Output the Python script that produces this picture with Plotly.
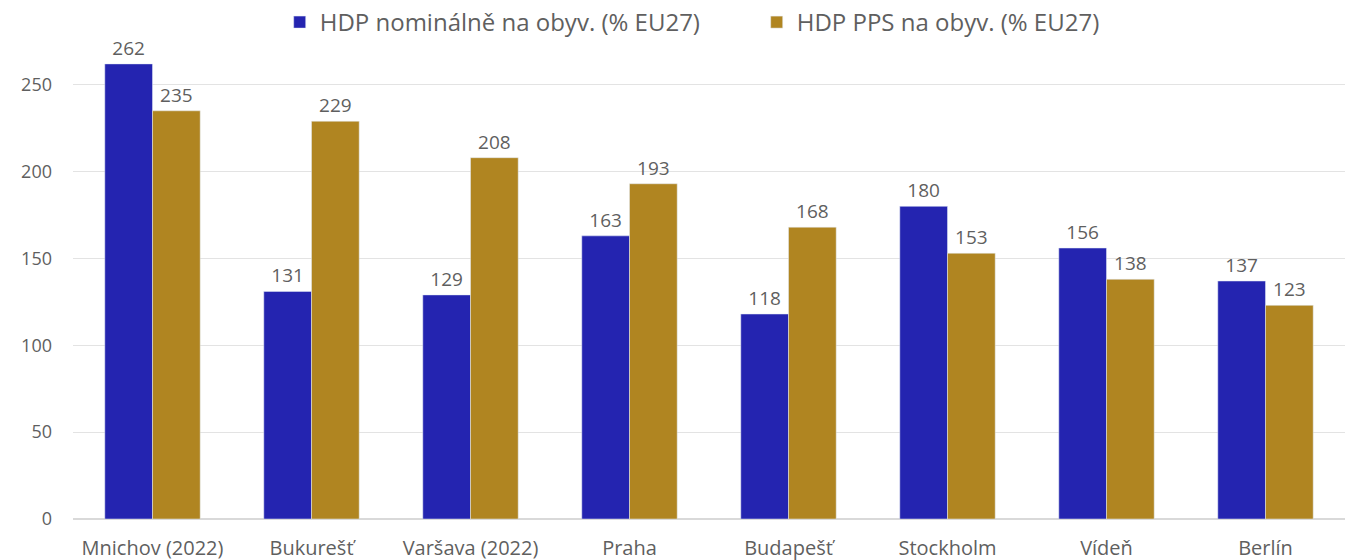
import plotly.graph_objects as go

categories = ["Mnichov (2022)", "Bukurešť", "Varšava (2022)", "Praha",
              "Budapešť", "Stockholm", "Vídeň", "Berlín"]
nominal = [262, 131, 129, 163, 118, 180, 156, 137]
pps = [235, 229, 208, 193, 168, 153, 138, 123]
series_names = ["HDP nominálně na obyv. (% EU27)", "HDP PPS na obyv. (% EU27)"]
y_ticks = [0, 50, 100, 150, 200, 250]

FONT = "Open Sans, Lato, sans-serif"
GRAY = "#5f5f5f"

fig = go.Figure()
fig.add_trace(go.Bar(x=categories, y=nominal, name=series_names[0],
                     marker_color="#2424B0", text=nominal, textposition="outside",
                     textfont=dict(size=19, color=GRAY), cliponaxis=False))
fig.add_trace(go.Bar(x=categories, y=pps, name=series_names[1],
                     marker_color="#B08521", text=pps, textposition="outside",
                     textfont=dict(size=19, color=GRAY), cliponaxis=False))

fig.update_layout(
    width=1355, height=560,
    margin=dict(l=73, r=10, t=50, b=41, autoexpand=False),
    barmode="group", bargap=0.4, bargroupgap=0,
    plot_bgcolor="white", paper_bgcolor="white",
    font=dict(family=FONT, size=19, color=GRAY),
    legend=dict(orientation="h", x=0.1625, xanchor="left", y=1.0, yanchor="top",
                yref="container", font=dict(size=24, color=GRAY), itemwidth=30,
                entrywidth=432, entrywidthmode="pixels"),
)
fig.update_xaxes(showline=True, linecolor="#d9d9d9", tickfont=dict(size=20, color=GRAY),
                 ticks="", showgrid=False, ticklabelstandoff=11)
fig.update_yaxes(range=[0, 270], tickvals=y_ticks, showgrid=True, gridcolor="#e3e3e3",
                 zeroline=True, zerolinecolor="#d9d9d9", tickfont=dict(size=18, color=GRAY),
                 ticks="", ticklabelstandoff=20)

fig.write_html("out.html", config={"displayModeBar": False},
               post_script="document.body.style.margin='0';document.body.style.overflow='hidden';")
